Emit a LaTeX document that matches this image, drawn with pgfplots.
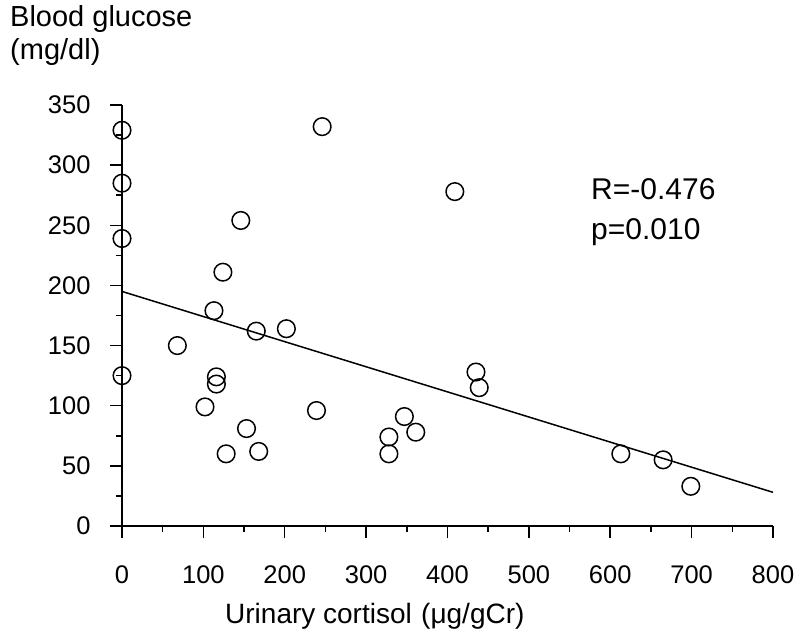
\documentclass[border=0pt]{standalone}
\usepackage{fontspec}
\setmainfont{Liberation Sans}
\usepackage{pgfplots}
\pgfplotsset{compat=1.18}
\begin{document}
\begin{tikzpicture}
\begin{axis}[
  at={(122bp,115bp)}, anchor=south west,
  scale only axis,
  width=651bp, height=421bp,
  xmin=0, xmax=800, ymin=0, ymax=350,
  axis lines=left,
  axis line style={-, line width=1.5bp, black},
  xtick={0,100,...,800}, ytick={0,50,...,350},
  minor xtick={50,150,...,750}, minor ytick={25,75,...,325},
  tick align=outside,
  major tick length=12bp, minor tick length=6bp,
  every tick/.style={line width=1.5bp, black},
  every minor tick/.style={line width=1.5bp, black},
  tick label style={font=\fontsize{25.5bp}{30bp}\selectfont},
  yticklabel style={xshift=-16bp},
  xticklabel style={yshift=-24bp},
  /pgf/number format/assume math mode=true,
  scaled ticks=false,
  clip=false,
]
\addplot[line width=1.5bp, black, no marks] coordinates {(0,195) (800,28)};
\addplot[only marks, mark=o, mark size=8.8bp, mark options={line width=1.5bp, black}] coordinates {
(0,329) (0,285) (0,239) (0,125) (68,150) (102,99) (246,332) (409,278)
(146,254) (124,211) (113,179) (165,162) (202,164) (116,124) (116,118)
(153,81) (128,60) (168,62) (239,96) (347,91) (328,74) (328,60) (361,78)
(435,128) (439,115) (613,60) (665,55) (699,33)
};
\end{axis}
\node[anchor=base west, inner sep=0pt, font=\fontsize{29bp}{34bp}\selectfont] at (10bp,614.3bp) {Blood glucose};
\node[anchor=base west, inner sep=0pt, font=\fontsize{29bp}{34bp}\selectfont] at (10bp,581bp) {(mg/dl)};
\node[anchor=base west, inner sep=0pt, font=\fontsize{28bp}{34bp}\selectfont] at (225bp,18bp) {Urinary cortisol\,\,(μg/gCr)};
\node[anchor=base west, inner sep=0pt, font=\fontsize{30bp}{36bp}\selectfont] at (591bp,441bp) {R=-0.476};
\node[anchor=base west, inner sep=0pt, font=\fontsize{30bp}{36bp}\selectfont] at (591bp,401bp) {p=0.010};
\pgfresetboundingbox
\path[use as bounding box] (0,0) rectangle (800bp,641bp);
\end{tikzpicture}
\end{document}
